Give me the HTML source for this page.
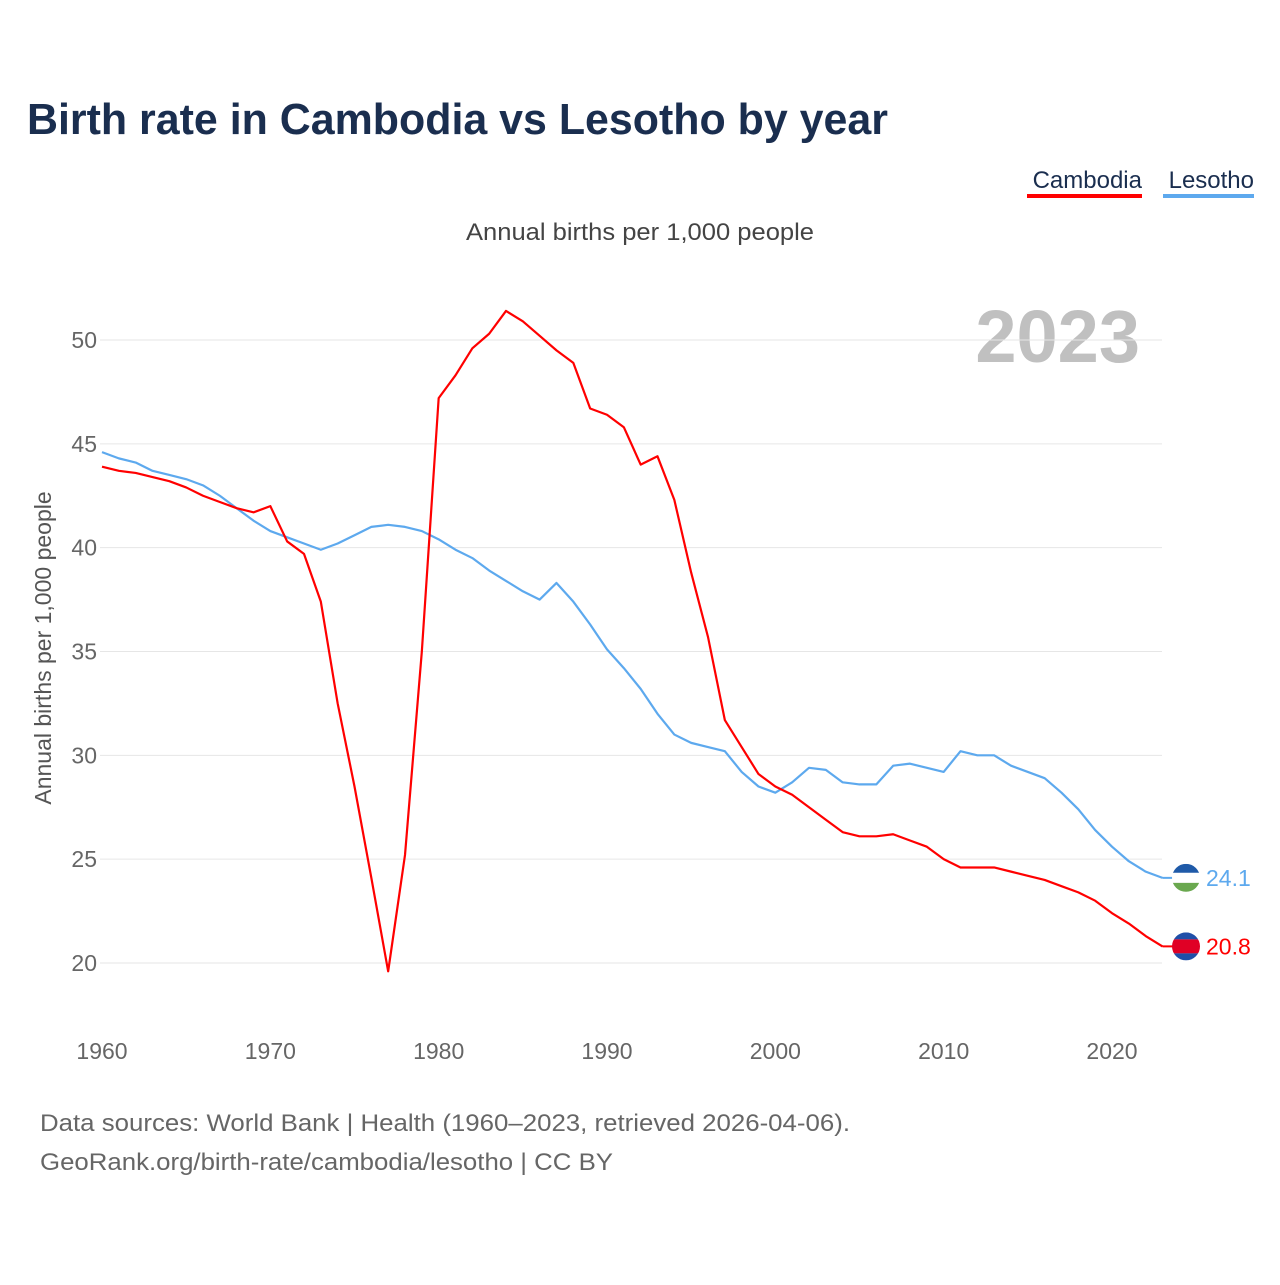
<!DOCTYPE html>
<html><head><meta charset="utf-8">
<style>
body{margin:0;background:#fff;font-family:"Liberation Sans",sans-serif;}
svg text{font-family:"Liberation Sans",sans-serif;}
</style></head>
<body>
<svg id="chart" width="1280" height="1280" viewBox="0 0 1280 1280" xmlns="http://www.w3.org/2000/svg">
<defs>
<clipPath id="c1"><circle cx="1186" cy="877" r="14"/></clipPath>
<clipPath id="c2"><circle cx="1186" cy="945" r="14"/></clipPath>
</defs>
<text x="27" y="134" font-size="44" font-weight="bold" fill="#1a2e4f" textLength="861" lengthAdjust="spacingAndGlyphs">Birth rate in Cambodia vs Lesotho by year</text>
<g>
<text x="1142" y="188" font-size="24" fill="#1a2e4f" text-anchor="end">Cambodia</text>
<rect x="1027" y="194" width="115" height="4" fill="#ff0000"/>
</g>
<g>
<text x="1254" y="188" font-size="24" fill="#1a2e4f" text-anchor="end">Lesotho</text>
<rect x="1163" y="194" width="91" height="4" fill="#5da9ee"/>
</g>
<text x="466" y="240" font-size="24" fill="#444" textLength="348" lengthAdjust="spacingAndGlyphs">Annual births per 1,000 people</text>
<text x="1140" y="362" font-size="74" font-weight="bold" fill="#c0c0c0" text-anchor="end">2023</text>
<text transform="translate(51,648) rotate(-90)" font-size="23" fill="#555" text-anchor="middle">Annual births per 1,000 people</text>
<g id="grid"></g><g id="xt"></g><g id="lines"></g><g id="ends"></g>
<text x="40" y="1131" font-size="24" fill="#666" textLength="810" lengthAdjust="spacingAndGlyphs">Data sources: World Bank | Health (1960–2023, retrieved 2026-04-06).</text>
<text x="40" y="1170" font-size="24" fill="#666" textLength="573" lengthAdjust="spacingAndGlyphs">GeoRank.org/birth-rate/cambodia/lesotho | CC BY</text>
</svg>
<script>
const years=[];for(let y=1960;y<=2023;y++)years.push(y);
const cambodia=[43.9,43.7,43.6,43.4,43.2,42.9,42.5,42.2,41.9,41.7,42.0,40.3,39.7,37.4,32.5,28.5,24.1,19.6,25.2,35.0,47.2,48.3,49.6,50.3,51.4,50.9,50.2,49.5,48.9,46.7,46.4,45.8,44.0,44.4,42.3,38.8,35.7,31.7,30.4,29.1,28.5,28.1,27.5,26.9,26.3,26.1,26.1,26.2,25.9,25.6,25.0,24.6,24.6,24.6,24.4,24.2,24.0,23.7,23.4,23.0,22.4,21.9,21.3,20.8];
const lesotho=[44.6,44.3,44.1,43.7,43.5,43.3,43.0,42.5,41.9,41.3,40.8,40.5,40.2,39.9,40.2,40.6,41.0,41.1,41.0,40.8,40.4,39.9,39.5,38.9,38.4,37.9,37.5,38.3,37.4,36.3,35.1,34.2,33.2,32.0,31.0,30.6,30.4,30.2,29.2,28.5,28.2,28.7,29.4,29.3,28.7,28.6,28.6,29.5,29.6,29.4,29.2,30.2,30.0,30.0,29.5,29.2,28.9,28.2,27.4,26.4,25.6,24.9,24.4,24.1];
const yTicks=[20,25,30,35,40,45,50];
const xTicks=[1960,1970,1980,1990,2000,2010,2020];
const NS="http://www.w3.org/2000/svg";
const X=y=>102+(y-1960)*(1010/60);
const Y=v=>963-(v-20)*(623/30);
function mk(t,a,p){const e=document.createElementNS(NS,t);for(const k in a)e.setAttribute(k,a[k]);p.appendChild(e);return e;}
const g=document.getElementById('grid');
yTicks.forEach(v=>{
 const l=mk('line',{x1:100,x2:1162,y1:Y(v),y2:Y(v),stroke:'#e6e6e6','stroke-width':1},g);
 
 
 const t=mk('text',{x:97,y:Y(v)+8,'font-size':23,fill:'#666','text-anchor':'end'},g);t.textContent=v;
 
 
});
const xt=document.getElementById('xt');
xTicks.forEach(v=>{
 const t=mk('text',{x:X(v),y:1059,'font-size':23,fill:'#666','text-anchor':'middle'},xt);t.textContent=v;
 
 
});
const L=document.getElementById('lines');
function line(d,c,n){
 const p=mk('polyline',{points:d.map((v,i)=>X(years[i])+','+Y(v)).join(' '),fill:'none',stroke:c,'stroke-width':2.2,'stroke-linejoin':'round'},L);
 
 
}
line(lesotho,'#5da9ee','lesotho-line');
line(cambodia,'#ff0000','cambodia-line');
const E=document.getElementById('ends');
function end(d,c,n,clip,bands){
 const v=d[d.length-1],cx=1186,cy=Y(v);
 mk('line',{x1:X(2023),x2:cx,y1:cy,y2:cy,stroke:c,'stroke-width':2},E);
 const cg=mk('g',{'clip-path':'url(#'+clip+')',transform:'translate(0,'+(cy-(clip==='c1'?877:945))+')'},E);
 
 
 const base=clip==='c1'?877:945;
 let yy=base-14;
 bands.forEach(b=>{mk('rect',{x:cx-14,y:yy,width:28,height:b[1],fill:b[0]},cg);yy+=b[1];});
 const t=mk('text',{x:1206,y:cy+8,'font-size':23,fill:c},E);t.textContent=v.toFixed(1);
 
 
}
end(lesotho,'#5da9ee','lesotho','c1',[['#1f5aa8',9],['#ffffff',10],['#6aa84f',9]]);
end(cambodia,'#ff0000','cambodia','c2',[['#1f4fa8',7],['#e00025',14],['#1f4fa8',7]]);
</script>
</body></html>
